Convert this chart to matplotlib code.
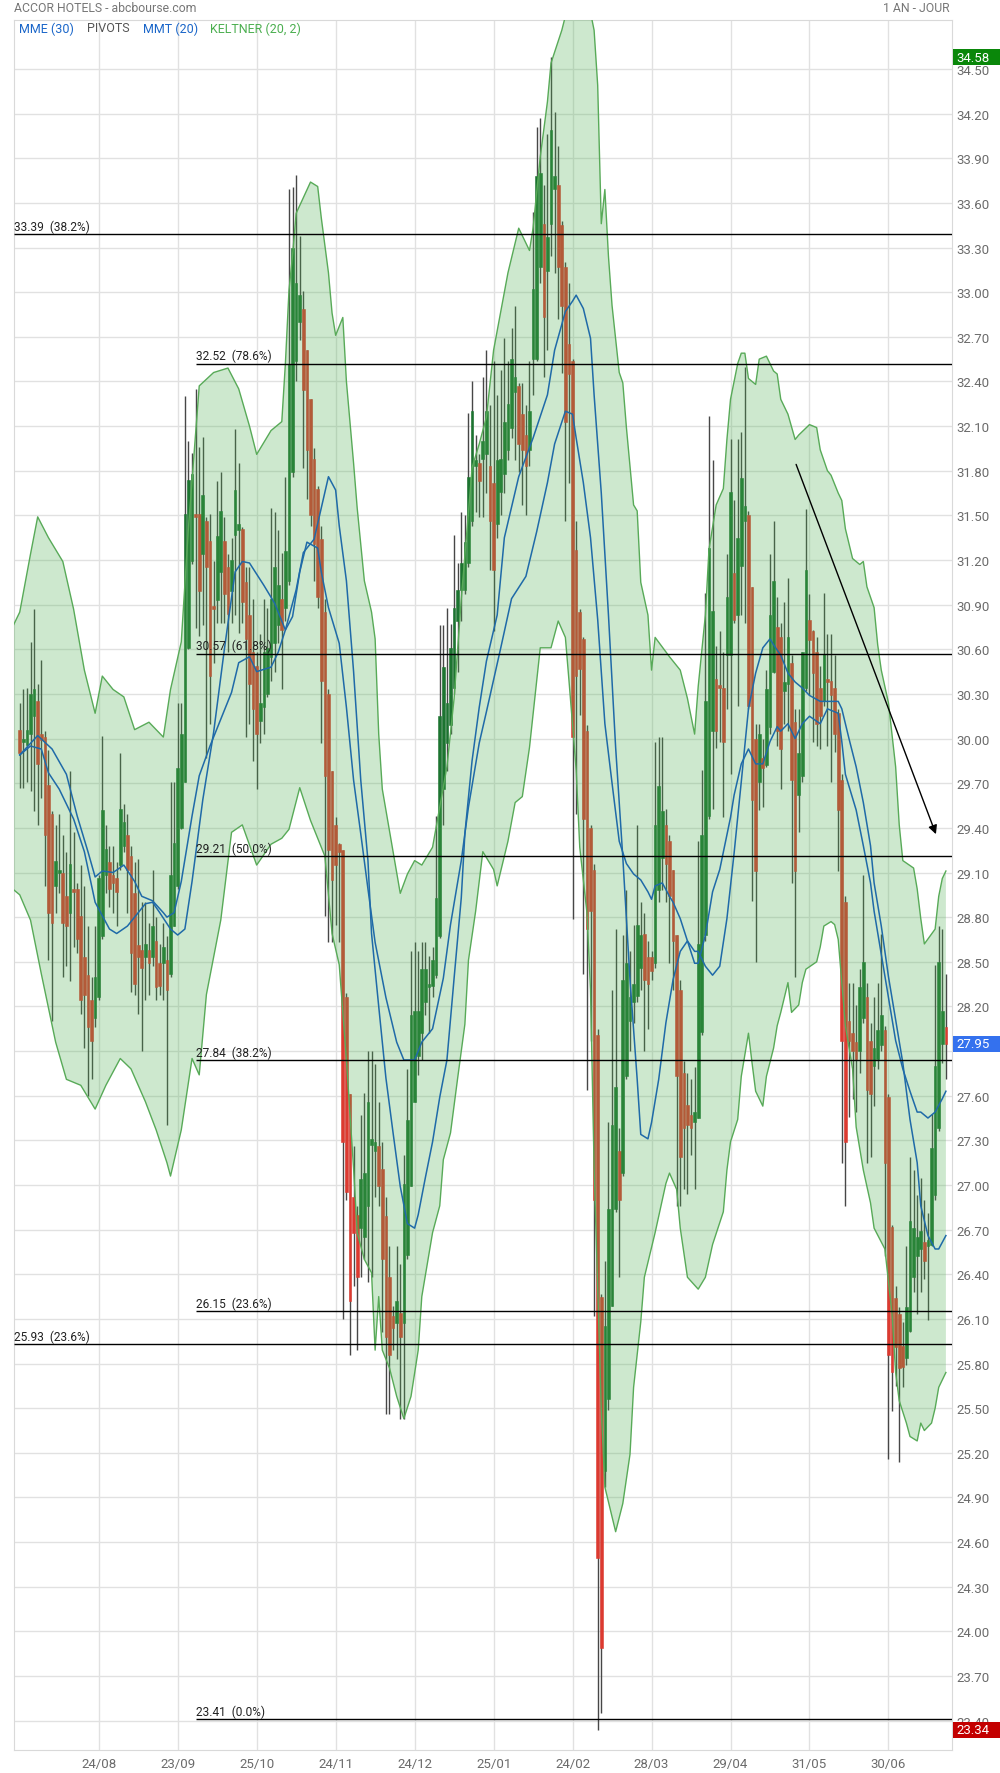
import numpy as np
import matplotlib.pyplot as plt
from matplotlib import transforms
from matplotlib.patches import Rectangle

plt.rcParams['font.family'] = ['Roboto', 'DejaVu Sans']

# daily candles (one year)
opens = [
    30.06, 29.98, 29.96, 30.03, 30.15, 30.25, 30.03, 30.01, 29.69, 29.49,
    29.01, 29.10, 29.10, 28.94, 28.83, 28.99, 28.99, 28.81, 28.53, 28.41,
    28.24, 28.12, 28.26, 28.67, 29.08, 29.17, 29.08, 29.06, 29.15, 29.28,
    29.35, 29.21, 28.96, 28.61, 28.58, 28.53, 28.58, 28.53, 28.64, 28.49,
    28.49, 28.51, 28.42, 28.74, 29.01, 29.40, 29.71, 30.61, 31.19, 31.51,
    31.51, 31.24, 31.46, 31.33, 30.88, 30.93, 31.12, 31.33, 31.15, 30.99,
    31.37, 31.40, 31.41, 31.05, 30.83, 30.58, 30.49, 30.12, 30.21, 30.30,
    30.55, 30.64, 30.76, 30.94, 30.88, 31.06, 31.79, 32.54, 32.80, 32.89,
    32.61, 32.28, 31.88, 31.68, 31.34, 30.85, 30.30, 29.78, 29.42, 29.29,
    29.25, 28.26, 27.61, 26.92, 26.80, 26.71, 26.65, 26.86, 27.27, 27.23,
    27.26, 27.11, 26.79, 26.38, 26.12, 26.07, 26.14, 26.07, 26.53, 26.99,
    27.56, 27.87, 28.02, 28.23, 28.33, 28.34, 28.41, 28.67, 29.66, 29.97,
    30.09, 30.34, 30.79, 31.00, 31.00, 31.18, 31.46, 31.83, 31.85, 31.88,
    31.91, 31.83, 31.72, 31.44, 31.66, 31.78, 31.94, 32.09, 32.33, 32.37,
    32.18, 32.04, 31.94, 32.55, 32.55, 33.17, 33.46, 33.14, 33.46, 33.69,
    33.72, 33.45, 33.17, 32.65, 32.54, 31.27, 30.85, 30.67, 30.05, 29.40,
    29.12, 28.01, 26.25, 25.08, 25.56, 26.19, 26.84, 27.23, 27.08, 27.73,
    28.10, 28.23, 28.27, 28.46, 28.69, 28.53, 28.53, 28.49, 28.98, 29.20,
    29.42, 29.31, 29.12, 28.68, 28.31, 27.75, 27.54, 27.47, 27.42, 27.45,
    28.03, 28.68, 29.48, 30.05, 30.40, 30.35, 30.34, 30.56, 30.56, 31.11,
    30.83, 31.16, 31.46, 31.50, 31.02, 30.00, 29.71, 29.87, 29.82, 30.08,
    30.45, 30.75, 30.68, 30.32, 30.37, 30.51, 30.11, 29.62, 29.75, 30.34,
    30.80, 30.72, 30.58, 30.34, 30.25, 30.40, 30.39, 30.34, 30.17, 29.72,
    28.90, 28.10, 28.02, 27.96, 27.90, 28.12, 28.26, 27.97, 27.80, 27.85,
    27.94, 28.04, 27.59, 26.72, 26.24, 26.13, 25.92, 25.84, 26.02, 26.38,
    26.52, 26.57, 26.62, 26.59, 26.60, 26.93, 27.38, 27.95, 28.06,
]
highs = [
    30.24, 30.33, 30.34, 30.65, 30.87, 30.37, 30.53, 30.05, 29.92, 29.51,
    29.42, 29.49, 29.35, 29.24, 29.78, 29.37, 29.03, 29.15, 29.01, 28.74,
    28.40, 28.74, 29.08, 30.02, 29.42, 29.28, 29.28, 29.17, 29.90, 29.56,
    29.49, 29.28, 29.17, 29.19, 28.90, 28.90, 28.76, 29.12, 28.80, 28.62,
    28.76, 28.67, 29.71, 29.71, 30.24, 30.24, 32.30, 32.00, 31.92, 32.35,
    31.96, 32.03, 31.49, 31.51, 31.19, 31.73, 31.79, 31.49, 31.24, 31.35,
    32.08, 31.85, 31.42, 31.15, 31.15, 30.94, 30.58, 30.70, 30.94, 30.88,
    31.55, 31.52, 31.40, 31.25, 31.76, 33.69, 33.71, 33.79, 33.38, 33.01,
    32.61, 32.28, 31.95, 31.70, 31.43, 30.94, 30.33, 29.78, 29.47, 29.30,
    29.25, 28.29, 27.61, 27.26, 26.86, 27.47, 27.62, 27.90, 27.90, 27.81,
    27.56, 27.29, 26.92, 26.59, 26.19, 26.59, 26.47, 27.20, 27.78, 28.57,
    28.63, 28.57, 28.63, 28.63, 28.54, 28.60, 29.48, 30.76, 30.76, 30.88,
    30.77, 31.37, 31.18, 31.52, 31.50, 32.19, 32.40, 32.04, 31.91, 32.43,
    32.61, 32.24, 32.54, 32.31, 32.48, 32.69, 32.54, 32.76, 32.91, 32.39,
    32.39, 32.24, 32.54, 33.54, 34.11, 34.17, 33.72, 34.06, 34.58, 34.21,
    33.98, 33.48, 33.20, 33.06, 32.55, 31.46, 30.87, 30.68, 30.09, 29.42,
    29.16, 28.05, 26.27, 26.49, 27.42, 28.31, 28.72, 27.38, 28.68, 28.98,
    28.57, 28.75, 29.42, 28.90, 28.83, 28.64, 28.57, 29.98, 30.01, 30.01,
    29.53, 29.35, 29.12, 28.68, 28.38, 27.83, 27.75, 27.71, 27.79, 29.31,
    29.79, 30.98, 32.17, 31.87, 30.62, 30.72, 30.58, 31.24, 32.01, 31.60,
    32.01, 32.06, 32.50, 31.53, 31.02, 30.10, 30.10, 30.00, 30.46, 31.24,
    31.46, 30.95, 30.78, 30.92, 31.08, 30.56, 30.20, 30.20, 30.58, 31.54,
    30.97, 30.73, 30.68, 30.49, 30.98, 30.70, 30.70, 30.56, 30.20, 29.76,
    28.94, 28.36, 28.36, 28.21, 28.45, 29.08, 28.36, 28.09, 28.26, 28.36,
    28.69, 28.07, 27.61, 26.73, 26.32, 26.18, 26.08, 26.59, 27.19, 27.10,
    26.93, 27.05, 26.90, 26.81, 27.48, 28.48, 28.74, 28.72, 28.42,
]
lows = [
    29.67, 29.67, 29.71, 29.65, 29.51, 29.42, 29.60, 29.01, 28.51, 28.10,
    28.83, 28.96, 28.40, 28.47, 28.37, 28.60, 28.56, 28.15, 27.92, 27.60,
    27.71, 28.06, 28.24, 28.65, 28.96, 28.87, 28.83, 28.74, 29.12, 29.24,
    28.83, 28.30, 28.28, 28.15, 27.90, 28.24, 28.28, 28.47, 28.24, 28.28,
    28.24, 27.40, 28.40, 28.74, 28.99, 29.39, 29.71, 30.60, 31.17, 30.74,
    30.69, 30.76, 29.87, 30.10, 30.51, 30.78, 30.78, 30.78, 30.58, 30.78,
    30.83, 30.71, 30.78, 30.01, 30.10, 29.85, 29.66, 29.97, 30.03, 30.28,
    30.39, 30.45, 30.64, 30.33, 30.79, 31.03, 31.76, 32.40, 32.68, 31.82,
    31.61, 31.43, 31.06, 30.88, 29.97, 28.81, 28.63, 28.63, 28.75, 28.63,
    26.10, 26.90, 25.86, 26.32, 25.89, 26.38, 26.50, 26.35, 26.38, 26.92,
    26.86, 26.01, 25.46, 25.46, 25.89, 25.83, 25.43, 25.43, 26.50, 26.99,
    27.56, 27.74, 27.84, 28.14, 28.02, 28.26, 28.39, 28.66, 29.42, 29.78,
    30.03, 30.30, 30.45, 30.79, 30.97, 31.15, 31.43, 31.52, 31.49, 31.49,
    31.65, 31.13, 30.72, 31.35, 31.50, 31.65, 31.87, 32.02, 31.87, 31.79,
    31.57, 31.50, 31.83, 32.31, 32.54, 33.06, 32.43, 32.61, 33.24, 33.13,
    32.82, 32.46, 31.46, 31.72, 28.79, 29.49, 30.16, 28.42, 27.64, 27.97,
    26.12, 23.34, 23.45, 24.97, 25.49, 26.19, 26.82, 26.38, 27.06, 27.71,
    27.90, 28.09, 28.23, 28.31, 27.90, 28.05, 28.38, 28.46, 28.90, 28.98,
    28.90, 28.49, 28.31, 26.86, 26.86, 26.97, 26.94, 27.20, 26.97, 27.45,
    28.01, 28.64, 29.46, 29.53, 29.94, 29.98, 29.47, 30.20, 29.76, 30.78,
    30.22, 30.83, 30.78, 30.20, 28.91, 28.50, 29.52, 29.54, 29.81, 30.03,
    30.44, 29.95, 29.66, 30.10, 30.05, 29.03, 28.40, 29.37, 29.71, 30.32,
    30.29, 29.98, 29.95, 29.93, 30.22, 29.95, 29.71, 29.91, 29.11, 27.15,
    26.86, 27.46, 27.58, 27.49, 27.75, 28.09, 27.15, 27.19, 27.53, 27.78,
    27.90, 26.52, 25.16, 25.48, 25.65, 25.14, 25.64, 25.79, 26.01, 26.28,
    26.13, 26.28, 26.37, 26.09, 26.59, 26.90, 27.36, 27.82, 27.71,
]
closes = [
    29.90, 30.00, 30.06, 30.30, 30.33, 29.83, 29.99, 29.35, 28.83, 28.76,
    29.18, 29.11, 28.76, 28.74, 29.16, 28.97, 28.65, 28.24, 28.28, 28.06,
    27.97, 28.40, 29.06, 29.52, 29.26, 28.99, 29.03, 28.97, 29.53, 29.44,
    29.12, 28.56, 28.35, 28.53, 28.46, 28.62, 28.49, 28.74, 28.33, 28.34,
    28.60, 28.31, 29.08, 29.30, 29.80, 30.03, 31.51, 31.74, 31.78, 31.49,
    30.99, 31.64, 31.15, 30.42, 30.87, 31.36, 31.53, 30.97, 30.84, 31.20,
    31.67, 31.44, 30.92, 30.67, 30.37, 30.20, 30.03, 30.24, 30.58, 30.61,
    30.94, 31.15, 31.03, 30.73, 31.26, 32.52, 33.30, 33.06, 32.98, 32.34,
    31.94, 31.50, 31.31, 30.95, 30.39, 29.75, 29.25, 29.05, 29.15, 29.24,
    27.29, 26.95, 26.22, 26.68, 26.38, 27.04, 27.08, 27.56, 27.31, 27.29,
    26.99, 26.50, 25.98, 25.86, 26.04, 26.22, 25.98, 27.01, 27.44, 28.14,
    28.17, 28.17, 28.45, 28.45, 28.34, 28.51, 28.93, 30.15, 30.48, 30.24,
    30.61, 30.88, 31.00, 31.18, 31.32, 31.76, 32.20, 31.87, 31.73, 32.00,
    32.20, 31.46, 31.13, 31.87, 31.88, 32.13, 32.25, 32.55, 32.43, 31.98,
    31.94, 31.83, 32.20, 33.02, 33.78, 33.80, 32.83, 33.37, 34.09, 33.78,
    33.17, 32.91, 32.13, 32.45, 30.01, 30.42, 30.47, 29.46, 28.72, 28.84,
    26.90, 24.49, 23.89, 26.05, 26.84, 27.40, 27.66, 26.90, 28.38, 28.49,
    28.26, 28.35, 28.75, 28.68, 28.38, 28.35, 28.44, 29.42, 29.68, 29.51,
    29.16, 28.94, 28.64, 27.73, 27.19, 27.38, 27.40, 27.38, 27.49, 28.62,
    29.35, 30.25, 31.28, 30.86, 30.05, 30.34, 29.98, 30.95, 31.66, 30.80,
    31.35, 31.75, 31.56, 30.22, 29.59, 29.11, 30.03, 29.80, 30.33, 30.83,
    31.06, 30.05, 29.93, 30.38, 30.68, 29.72, 29.11, 29.90, 30.58, 31.13,
    30.66, 30.44, 30.10, 30.15, 30.57, 30.38, 30.29, 30.03, 29.52, 27.97,
    27.29, 27.97, 27.90, 27.85, 28.33, 28.50, 27.64, 27.61, 27.92, 28.04,
    28.14, 27.15, 25.86, 25.74, 25.91, 25.77, 25.78, 26.18, 26.76, 26.71,
    26.65, 26.69, 26.49, 26.63, 27.25, 27.80, 28.50, 28.17, 27.95,
]

# month labels and the candle index they sit on
date_labels = ['24/08', '23/09', '25/10', '24/11', '24/12', '25/01',
               '24/02', '28/03', '29/04', '31/05', '30/06']
date_index = [22, 44, 66, 88, 110, 132, 154, 176, 198, 220, 242]

# Keltner (20, 2) envelope
kelt_up_x = [-2, 0, 3, 5, 8, 12, 15, 18, 21, 23, 26, 29, 32, 36, 40, 42, 45, 47, 50, 54,
             58, 61, 64, 66, 70, 73, 74, 75, 76, 77, 81, 83, 84, 86, 87, 88, 90, 91, 93, 94,
             96, 98, 99, 100, 101, 104, 106, 108, 110, 112, 115, 117, 119, 121, 123, 125, 126,
             128, 130, 132, 136, 139, 142, 143, 145, 147, 148, 151, 153, 155, 158, 160, 161,
             162, 163, 164, 165, 167, 168, 169, 171, 172, 173, 175, 176, 177, 181, 184, 186,
             188, 189, 191, 192, 194, 196, 197, 198, 200, 201, 202, 203, 205, 206, 208, 210,
             211, 212, 214, 216, 217, 220, 222, 223, 225, 226, 228, 229, 230, 232, 234, 235,
             236, 238, 239, 240, 242, 244, 245, 246, 249, 250, 251, 252, 255, 256, 257, 258]
kelt_up = [30.75, 30.85, 31.24, 31.49, 31.35, 31.19, 30.87, 30.46, 30.17, 30.42, 30.33, 30.28,
           30.06, 30.11, 30.01, 30.33, 30.65, 31.42, 32.37, 32.46, 32.49, 32.35, 32.10, 31.91,
           32.07, 32.13, 32.52, 33.01, 33.25, 33.53, 33.74, 33.71, 33.50, 33.13, 32.86, 32.71,
           32.83, 32.40, 31.85, 31.55, 31.06, 30.85, 30.67, 30.03, 29.66, 29.24, 28.96, 29.09,
           29.18, 29.15, 29.27, 29.54, 29.81, 30.27, 30.94, 31.52, 31.82, 31.98, 32.16, 32.61,
           33.13, 33.43, 33.28, 33.43, 33.91, 34.28, 34.54, 34.76, 34.95, 35.05, 35.00, 34.76,
           34.39, 33.46, 33.69, 33.24, 32.91, 32.46, 32.39, 32.09, 31.57, 31.53, 31.05, 30.83,
           30.46, 30.68, 30.55, 30.46, 30.27, 30.03, 30.35, 30.83, 31.27, 31.57, 31.68, 32.01,
           32.28, 32.52, 32.59, 32.59, 32.42, 32.38, 32.55, 32.57, 32.47, 32.45, 32.28, 32.18,
           32.01, 32.04, 32.11, 32.09, 31.94, 31.80, 31.77, 31.65, 31.60, 31.41, 31.21, 31.17,
           31.19, 31.02, 30.88, 30.63, 30.46, 30.24, 29.81, 29.42, 29.18, 29.13, 28.99, 28.79,
           28.62, 28.72, 28.94, 29.06, 29.11]
kelt_lo_x = [-2, 0, 3, 6, 10, 13, 17, 21, 24, 28, 31, 35, 38, 41, 42, 45, 48, 50, 52, 56,
             59, 62, 66, 70, 73, 75, 78, 81, 85, 87, 89, 91, 93, 94, 96, 98, 99, 100, 101, 103,
             105, 107, 109, 111, 112, 115, 117, 118, 120, 122, 124, 125, 127, 129, 132, 133,
             136, 138, 140, 142, 145, 148, 150, 152, 153, 155, 156, 158, 159, 160, 161, 162,
             163, 166, 168, 170, 171, 173, 174, 177, 180, 181, 183, 184, 186, 189, 191, 193,
             196, 197, 198, 200, 201, 203, 204, 205, 207, 208, 210, 211, 212, 214, 215, 217,
             218, 219, 222, 223, 224, 226, 227, 228, 229, 230, 232, 233, 235, 237, 238, 241,
             243, 244, 245, 247, 248, 250, 251, 252, 254, 255, 256, 258]
kelt_lo = [28.99, 28.95, 28.78, 28.42, 27.96, 27.71, 27.67, 27.51, 27.67, 27.85, 27.78, 27.56,
           27.37, 27.15, 27.06, 27.37, 27.85, 27.74, 28.28, 28.78, 29.37, 29.42, 29.15, 29.29,
           29.33, 29.39, 29.67, 29.45, 29.21, 28.69, 28.48, 27.84, 27.11, 26.68, 26.50, 26.41,
           25.89, 26.25, 25.89, 25.77, 25.58, 25.43, 25.58, 25.89, 26.25, 26.68, 26.86, 27.17,
           27.35, 27.72, 28.08, 28.51, 28.84, 29.24, 29.12, 29.01, 29.31, 29.57, 29.61, 29.94,
           30.61, 30.61, 30.79, 30.68, 30.39, 29.79, 29.27, 28.83, 28.31, 27.12, 26.30, 25.49,
           24.97, 24.67, 24.86, 25.19, 25.64, 26.08, 26.38, 26.68, 27.01, 27.08, 26.97, 26.71,
           26.38, 26.30, 26.38, 26.60, 26.82, 27.10, 27.29, 27.44, 27.73, 28.02, 27.82, 27.63,
           27.53, 27.73, 27.92, 28.07, 28.16, 28.36, 28.16, 28.21, 28.36, 28.45, 28.50, 28.60,
           28.74, 28.77, 28.75, 28.65, 28.36, 28.07, 27.78, 27.39, 27.10, 26.88, 26.71, 26.57,
           26.13, 25.74, 25.55, 25.40, 25.31, 25.28, 25.40, 25.35, 25.40, 25.50, 25.64, 25.74]

# moving averages (both drawn in the same blue)
mme_x = [0, 3, 6, 8, 11, 15, 18, 21, 25, 27, 30, 33, 35, 37, 39, 42, 44, 46, 48, 51,
         54, 57, 60, 62, 64, 68, 71, 74, 76, 78, 80, 83, 84, 86, 89, 91, 93, 95, 97, 99,
         102, 105, 107, 110, 112, 115, 118, 120, 123, 125, 128, 130, 134, 137, 141, 144,
         147, 149, 152, 154, 155, 157, 159, 161, 163, 165, 167, 169, 171, 173, 175, 176,
         177, 179, 181, 182, 184, 186, 188, 189, 191, 193, 195, 198, 199, 201, 203, 205,
         207, 209, 211, 212, 214, 216, 218, 220, 223, 225, 228, 229, 230, 233, 235, 237,
         238, 240, 242, 244, 246, 248, 250, 251, 253, 255, 257, 258]
mme = [29.89, 29.95, 29.93, 29.77, 29.66, 29.46, 29.24, 28.90, 28.72, 28.69, 28.74, 28.83,
       28.89, 28.90, 28.83, 28.72, 28.68, 28.72, 29.04, 29.59, 30.04, 30.60, 31.12, 31.19,
       31.18, 31.03, 30.91, 30.73, 30.82, 31.12, 31.32, 31.28, 31.12, 30.88, 30.64, 30.21,
       29.72, 29.36, 28.99, 28.63, 28.26, 27.96, 27.84, 27.84, 27.96, 28.05, 28.39, 28.75,
       29.18, 29.54, 29.97, 30.18, 30.61, 30.94, 31.09, 31.39, 31.72, 31.98, 32.20, 32.18,
       32.02, 31.72, 31.35, 30.80, 30.10, 29.70, 29.31, 29.16, 29.09, 29.05, 28.97, 28.92,
       29.01, 29.03, 28.94, 28.90, 28.79, 28.64, 28.49, 28.49, 28.68, 28.97, 29.12, 29.47,
       29.62, 29.83, 29.93, 29.83, 29.83, 29.98, 30.08, 30.05, 30.10, 30.00, 30.10, 30.15,
       30.10, 30.20, 30.17, 29.98, 29.76, 29.52, 29.28, 29.03, 28.84, 28.55, 28.26, 27.97,
       27.78, 27.63, 27.49, 27.49, 27.45, 27.49, 27.58, 27.63]
mmt_x = [0, 5, 9, 13, 16, 19, 21, 23, 26, 29, 32, 34, 37, 40, 41, 43, 45, 48, 50, 53,
         56, 59, 61, 64, 66, 70, 72, 74, 77, 79, 82, 84, 86, 88, 89, 91, 93, 95, 97, 98,
         100, 102, 104, 106, 108, 110, 111, 113, 115, 117, 119, 121, 123, 124, 126, 128,
         130, 133, 135, 139, 143, 147, 149, 152, 154, 155, 157, 159, 160, 162, 164, 166,
         168, 170, 172, 173, 175, 176, 178, 180, 182, 184, 186, 188, 189, 191, 193, 195,
         197, 199, 201, 203, 205, 207, 209, 210, 212, 214, 216, 218, 220, 223, 225, 228,
         229, 231, 233, 235, 237, 238, 240, 242, 244, 246, 248, 250, 251, 253, 255, 256, 258]
mmt = [29.89, 30.02, 29.93, 29.76, 29.48, 29.24, 29.07, 29.11, 29.10, 29.15, 29.04, 28.94,
       28.91, 28.83, 28.80, 28.83, 29.04, 29.48, 29.75, 29.95, 30.13, 30.31, 30.51, 30.55,
       30.45, 30.48, 30.58, 30.73, 31.00, 31.25, 31.34, 31.55, 31.76, 31.67, 31.43, 31.06,
       30.45, 29.72, 29.18, 28.69, 28.20, 27.72, 27.35, 26.99, 26.74, 26.71, 26.80, 27.05,
       27.29, 27.59, 27.84, 28.39, 28.93, 29.36, 29.85, 30.21, 30.52, 30.83, 31.35, 31.76,
       32.02, 32.31, 32.61, 32.87, 32.94, 32.98, 32.89, 32.69, 32.31, 31.65, 30.83, 29.94,
       29.20, 28.38, 27.71, 27.34, 27.31, 27.42, 27.71, 28.09, 28.38, 28.57, 28.64, 28.57,
       28.57, 28.47, 28.41, 28.47, 28.79, 29.23, 29.71, 30.20, 30.44, 30.61, 30.67, 30.63,
       30.56, 30.44, 30.38, 30.34, 30.29, 30.25, 30.25, 30.25, 30.20, 30.00, 29.81, 29.57,
       29.28, 29.03, 28.74, 28.40, 28.11, 27.82, 27.44, 27.15, 26.86, 26.66, 26.57, 26.57,
       26.66]

# Fibonacci retracement sets
fibo_full_levels = [33.39, 25.93]
fibo_full_pct = ['38.2%', '23.6%']
fibo_part_levels = [32.52, 30.57, 29.21, 27.84, 26.15, 23.41]
fibo_part_pct = ['78.6%', '61.8%', '50.0%', '38.2%', '23.6%', '0.0%']
fibo_part_start = 49

arrow_start = (216, 31.86)
arrow_end = (255.5, 29.34)

high_tag, last_tag, low_tag = 34.58, 27.95, 23.34

W, H = 1000, 1774
fig = plt.figure(figsize=(W / 100, H / 100), dpi=100)
ax = fig.add_axes([14 / W, 1 - 1751 / H, (952 - 14) / W, (1751 - 21) / H])

o = np.array(opens)
h = np.array(highs)
l = np.array(lows)
c = np.array(closes)
idx = np.arange(len(c))

ymin, ymax = 23.203, 34.829
xmin, xmax = -1.6, 259.7
ax.set_xlim(xmin, xmax)
ax.set_ylim(ymin, ymax)

yticks = np.round(np.arange(23.40, 34.51, 0.30), 2)
ax.set_yticks(yticks)
# the last-price tag hides the tick label right under it
ax.set_yticklabels(['' if abs(t - last_tag) < 0.06 else f'{t:.2f}' for t in yticks])
ax.yaxis.tick_right()
ax.set_xticks(date_index)
ax.set_xticklabels(date_labels)
ax.tick_params(axis='y', length=0, pad=3, labelsize=9.5, labelcolor='#6b6b6b')
ax.tick_params(axis='x', length=0, pad=5, labelsize=9.5, labelcolor='#6b6b6b')
ax.grid(True, color='#e1e1e1', lw=1)
ax.set_axisbelow(True)
for s in ax.spines.values():
    s.set_color('#d9d9d9')

# candles
up = c >= o
colors = np.where(up, '#1c7430', '#dc3a30')
ax.vlines(idx, l, h, color='#474747', lw=1, zorder=2)
body = np.maximum(np.abs(c - o), 0.02)
ax.bar(idx, body, bottom=np.minimum(o, c), width=0.74, color=colors,
       edgecolor=colors, lw=0.4, zorder=3)

# keltner band (translucent, over the candles)
band_x = np.r_[kelt_up_x, kelt_lo_x[::-1]]
band_y = np.r_[kelt_up, kelt_lo[::-1]]
ax.fill(band_x, band_y, color='#4caf50', alpha=0.28, lw=0, zorder=4)
ax.plot(kelt_up_x, kelt_up, color='#58aa58', lw=1, zorder=5)
ax.plot(kelt_lo_x, kelt_lo, color='#58aa58', lw=1, zorder=5)

# moving averages
ax.plot(mme_x, mme, color='#1f6aa8', lw=1.1, zorder=6)
ax.plot(mmt_x, mmt, color='#1f6aa8', lw=1.1, zorder=6)

# fibonacci lines
for y, pct in zip(fibo_full_levels, fibo_full_pct):
    ax.hlines(y, xmin, xmax, color='black', lw=1, zorder=7)
    ax.annotate(f'{y:.2f}  ({pct})', (xmin, y), xytext=(0, 1), textcoords='offset points',
                ha='left', va='bottom', fontsize=8.6, color='#222222', zorder=8)
for y, pct in zip(fibo_part_levels, fibo_part_pct):
    ax.hlines(y, fibo_part_start, xmax, color='black', lw=1, zorder=7)
    ax.annotate(f'{y:.2f}  ({pct})', (fibo_part_start, y), xytext=(0, 1),
                textcoords='offset points', ha='left', va='bottom', fontsize=8.6,
                color='#222222', zorder=8)

ax.annotate('', xy=arrow_end, xytext=arrow_start,
            arrowprops=dict(arrowstyle='-|>', color='black', lw=1, mutation_scale=13),
            zorder=8)

# price tags on the right
trans = transforms.blended_transform_factory(fig.transFigure, ax.transData)
px_per_unit = (1751 - 21) / (ymax - ymin)
tag_h = 16 / px_per_unit
for price, col in [(high_tag, '#0a870a'), (last_tag, '#3471ee'), (low_tag, '#c30000')]:
    fig.add_artist(Rectangle((953 / W, price - tag_h / 2), 47 / W, tag_h,
                             transform=trans, facecolor=col, edgecolor='none', zorder=5))
    fig.text(956 / W, price, f'{price:.2f}', transform=trans, ha='left', va='center',
             fontsize=9.5, color='white', zorder=6)

# header
fig.text(14 / W, 1 - 8 / H, 'ACCOR HOTELS - abcbourse.com', ha='left', va='center',
         fontsize=8.8, color='#777777')
fig.text(950 / W, 1 - 8 / H, '1 AN - JOUR', ha='right', va='center',
         fontsize=8.8, color='#777777')
legend_items = [('MME (30)', '#1a66c9', 19), ('PIVOTS', '#555555', 87),
                ('MMT (20)', '#1a66c9', 143), ('KELTNER (20, 2)', '#4caf50', 210)]
for txt, col, x in legend_items:
    fig.text(x / W, 1 - 29 / H, txt, ha='left', va='center', fontsize=9, color=col)

fig.savefig('out.png', dpi=100)
